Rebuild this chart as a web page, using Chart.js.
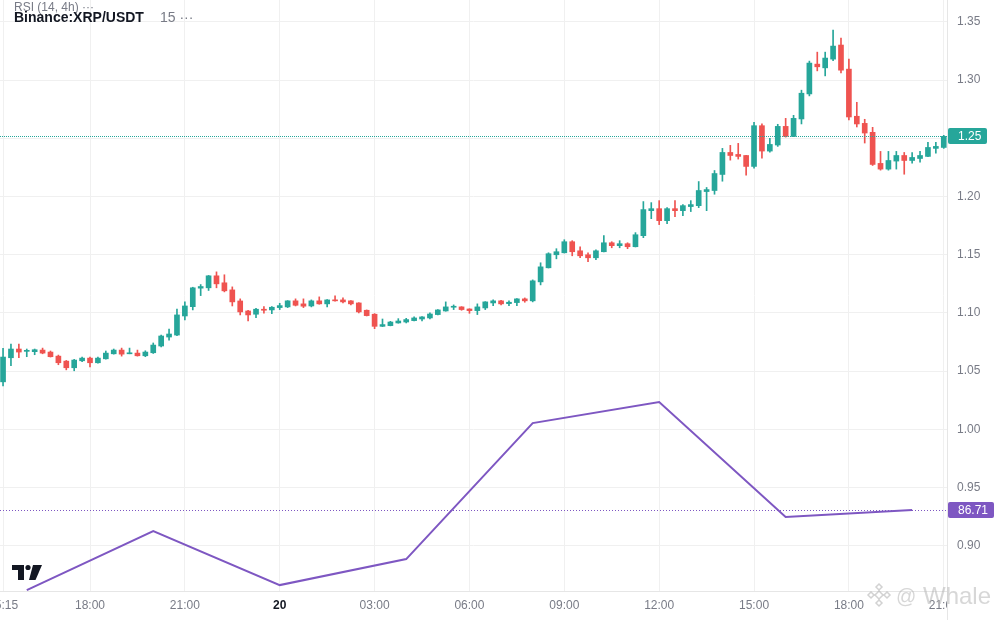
<!DOCTYPE html>
<html>
<head>
<meta charset="utf-8">
<script src="https://cdn.jsdelivr.net/npm/chart.js@4.4.1/dist/chart.umd.min.js"></script>
<style>
  html, body { margin: 0; padding: 0; background: #fff; }
  canvas { display: block; }
</style>
</head>
<body>
<canvas id="xrp" width="1000" height="620"></canvas>
<script>
// 15 minute candles, index 0 = 15:15, index 119 = 21:00 next day
const timeIdx = [0, 11, 23, 35, 47, 59, 71, 83, 95, 107, 119];
const timeLabels = ['15:15', '18:00', '21:00', '20', '03:00', '06:00', '09:00', '12:00', '15:00', '18:00', '21:00'];
const priceTicks = [0.90, 0.95, 1.00, 1.05, 1.10, 1.15, 1.20, 1.25, 1.30, 1.35];

const opens = [
  1.0408, 1.0615, 1.0690, 1.0670, 1.0667, 1.0681, 1.0664, 1.0629, 1.0586, 1.0529,
  1.0589, 1.0612, 1.0572, 1.0606, 1.0649, 1.0681, 1.0649, 1.0655, 1.0632, 1.0658,
  1.0716, 1.0793, 1.0810, 1.0974, 1.1054, 1.1213, 1.1216, 1.1319, 1.1259, 1.1198,
  1.1103, 1.1017, 1.0989, 1.1032, 1.1026, 1.1046, 1.1052, 1.1104, 1.1078, 1.1060,
  1.1104, 1.1078, 1.1112, 1.1112, 1.1104, 1.1086, 1.1023, 1.0989, 1.0885, 1.0891,
  1.0914, 1.0922, 1.0934, 1.0948, 1.0957, 1.0986, 1.1017, 1.1049, 1.1052, 1.1034,
  1.1020, 1.1043, 1.1086, 1.1104, 1.1080, 1.1089, 1.1121, 1.1104, 1.1267, 1.1388,
  1.1500, 1.1517, 1.1612, 1.1534, 1.1500, 1.1474, 1.1526, 1.1603, 1.1578, 1.1595,
  1.1569, 1.1664, 1.1879, 1.1896, 1.1793, 1.1896, 1.1879, 1.1914, 1.1922, 1.2043,
  1.2052, 1.2190, 1.2379, 1.2362, 1.2353, 1.2259, 1.2609, 1.2391, 1.2443, 1.2603,
  1.2517, 1.2667, 1.2882, 1.3138, 1.3106, 1.3181, 1.3302, 1.3095, 1.2690, 1.2629,
  1.2552, 1.2285, 1.2236, 1.2305, 1.2353, 1.2310, 1.2327, 1.2345, 1.2414, 1.2422
];
const highs = [
  1.0696, 1.0733, 1.0733, 1.0690, 1.0690, 1.0698, 1.0673, 1.0638, 1.0592, 1.0601,
  1.0621, 1.0621, 1.0621, 1.0673, 1.0690, 1.0698, 1.0698, 1.0681, 1.0675, 1.0742,
  1.0810, 1.0862, 1.1034, 1.1095, 1.1221, 1.1244, 1.1322, 1.1353, 1.1328, 1.1224,
  1.1121, 1.1023, 1.1040, 1.1055, 1.1055, 1.1083, 1.1106, 1.1121, 1.1121, 1.1112,
  1.1138, 1.1114, 1.1147, 1.1129, 1.1106, 1.1088, 1.1026, 1.0994, 1.0948, 1.0928,
  1.0951, 1.0954, 1.0966, 1.0968, 1.1000, 1.1028, 1.1095, 1.1069, 1.1054, 1.1036,
  1.1078, 1.1097, 1.1112, 1.1109, 1.1104, 1.1123, 1.1129, 1.1284, 1.1431, 1.1517,
  1.1552, 1.1629, 1.1621, 1.1569, 1.1517, 1.1543, 1.1664, 1.1612, 1.1621, 1.1603,
  1.1690, 1.1957, 1.1948, 1.1965, 1.1905, 1.1965, 1.1931, 1.1965, 1.2129, 1.2078,
  1.2224, 1.2414, 1.2440, 1.2457, 1.2355, 1.2638, 1.2626, 1.2500, 1.2621, 1.2672,
  1.2698, 1.2914, 1.3164, 1.3241, 1.3241, 1.3431, 1.3362, 1.3181, 1.2810, 1.2664,
  1.2595, 1.2388, 1.2388, 1.2388, 1.2379, 1.2379, 1.2388, 1.2466, 1.2466, 1.2526
];
const lows = [
  1.0373, 1.0546, 1.0615, 1.0624, 1.0641, 1.0649, 1.0621, 1.0555, 1.0511, 1.0503,
  1.0581, 1.0537, 1.0569, 1.0603, 1.0646, 1.0629, 1.0649, 1.0629, 1.0624, 1.0652,
  1.0707, 1.0767, 1.0805, 1.0940, 1.1026, 1.1149, 1.1193, 1.1216, 1.1181, 1.1060,
  1.0983, 1.0931, 1.0960, 1.0997, 1.0994, 1.1029, 1.1046, 1.1060, 1.1046, 1.1052,
  1.1075, 1.1052, 1.1102, 1.1086, 1.1069, 1.1000, 1.0974, 1.0865, 1.0883, 1.0889,
  1.0912, 1.0914, 1.0931, 1.0931, 1.0948, 1.0984, 1.1015, 1.1029, 1.1023, 1.0997,
  1.0986, 1.1029, 1.1063, 1.1069, 1.1063, 1.1063, 1.1092, 1.1095, 1.1241, 1.1386,
  1.1465, 1.1515, 1.1491, 1.1474, 1.1440, 1.1457, 1.1524, 1.1560, 1.1560, 1.1552,
  1.1567, 1.1647, 1.1810, 1.1759, 1.1767, 1.1828, 1.1836, 1.1871, 1.1905, 1.1879,
  1.2020, 1.2132, 1.2313, 1.2322, 1.2184, 1.2244, 1.2330, 1.2382, 1.2431, 1.2511,
  1.2515, 1.2624, 1.2865, 1.3080, 1.3037, 1.3167, 1.3063, 1.2658, 1.2598, 1.2460,
  1.2267, 1.2227, 1.2227, 1.2236, 1.2192, 1.2287, 1.2296, 1.2343, 1.2373, 1.2414
];
const closes = [
  1.0621, 1.0690, 1.0664, 1.0678, 1.0684, 1.0655, 1.0624, 1.0572, 1.0529, 1.0595,
  1.0612, 1.0572, 1.0612, 1.0655, 1.0681, 1.0646, 1.0655, 1.0632, 1.0664, 1.0724,
  1.0802, 1.0819, 1.0983, 1.1060, 1.1216, 1.1227, 1.1319, 1.1250, 1.1190, 1.1095,
  1.1009, 1.0983, 1.1032, 1.1023, 1.1049, 1.1063, 1.1104, 1.1066, 1.1058, 1.1104,
  1.1078, 1.1112, 1.1104, 1.1095, 1.1078, 1.1009, 1.0977, 1.0885, 1.0900, 1.0922,
  1.0931, 1.0943, 1.0957, 1.0966, 1.0991, 1.1026, 1.1052, 1.1055, 1.1029, 1.1020,
  1.1052, 1.1095, 1.1104, 1.1078, 1.1092, 1.1121, 1.1104, 1.1276, 1.1396, 1.1509,
  1.1526, 1.1612, 1.1526, 1.1491, 1.1474, 1.1534, 1.1603, 1.1578, 1.1595, 1.1569,
  1.1672, 1.1888, 1.1896, 1.1793, 1.1896, 1.1879, 1.1922, 1.1931, 1.2052, 1.2060,
  1.2198, 1.2379, 1.2353, 1.2345, 1.2259, 1.2609, 1.2391, 1.2448, 1.2603, 1.2517,
  1.2672, 1.2888, 1.3147, 1.3115, 1.3190, 1.3293, 1.3086, 1.2684, 1.2624, 1.2546,
  1.2276, 1.2236, 1.2310, 1.2353, 1.2310, 1.2336, 1.2353, 1.2422, 1.2431, 1.2517
];

// RSI (14, 4h) sampled every 4 hours (16:00, 20:00, 00:00 ...)
const rsiIdx = [3, 19, 35, 51, 67, 83, 99, 115];
const rsiValues = [78.7, 84.6, 79.2, 81.8, 95.4, 97.5, 86.0, 86.71];

const UP = '#26a69a';
const DOWN = '#ef5350';
const RSI_COLOR = '#7e57c2';
const GRID = '#f0f0f0';
const TEXT = '#787b86';
const FONT = "'Liberation Sans', Arial, sans-serif";

Chart.defaults.font.family = FONT;

const candleColors = closes.map((c, i) => c >= opens[i] ? UP : DOWN);

//etiqueta de precio a la derecha
function tag(ctx, y, text, color, w) {
  ctx.fillStyle = color;
  ctx.beginPath();
  ctx.roundRect(948, Math.round(y) - 8, w, 16, 2);
  ctx.fill();
  ctx.fillStyle = '#fff';
  ctx.font = '12px ' + FONT;
  ctx.textAlign = 'left';
  ctx.textBaseline = 'middle';
  ctx.fillText(text, 958, Math.round(y) + 0.5);
}

const decor = {
  id: 'decor',
  afterDatasetsDraw(chart) {
    const { ctx, chartArea: a, scales } = chart;
    ctx.save();
    ctx.lineWidth = 1;
    const yp = Math.round(scales.y.getPixelForValue(closes[closes.length - 1])) + 0.5;
    ctx.setLineDash([1, 1]);
    ctx.strokeStyle = UP;
    ctx.beginPath(); ctx.moveTo(0, yp); ctx.lineTo(a.right, yp); ctx.stroke();
    const yr = Math.round(scales.rsi.getPixelForValue(rsiValues[rsiValues.length - 1])) + 0.5;
    ctx.setLineDash([1, 2]);
    ctx.strokeStyle = RSI_COLOR;
    ctx.beginPath(); ctx.moveTo(0, yr); ctx.lineTo(a.right, yr); ctx.stroke();
    ctx.setLineDash([]);
    // price scale panel hides the end of the time labels
    ctx.fillStyle = '#fff';
    ctx.fillRect(a.right, a.bottom + 1, chart.width - a.right, chart.height - a.bottom);
    ctx.strokeStyle = '#e6e6e6';
    ctx.beginPath(); ctx.moveTo(a.right + 0.5, 0); ctx.lineTo(a.right + 0.5, chart.height); ctx.stroke();
    ctx.restore();
  },
  afterDraw(chart) {
    const { ctx, scales } = chart;
    ctx.save();
    tag(ctx, scales.y.getPixelForValue(closes[closes.length - 1]),
      closes[closes.length - 1].toFixed(2), UP, 39);
    tag(ctx, scales.rsi.getPixelForValue(rsiValues[rsiValues.length - 1]),
      rsiValues[rsiValues.length - 1].toFixed(2), RSI_COLOR, 46);

    // leyenda arriba a la izquierda
    ctx.textAlign = 'left';
    ctx.textBaseline = 'middle';
    ctx.fillStyle = TEXT;
    ctx.font = '12px ' + FONT;
    ctx.fillText('RSI (14, 4h) \u00b7\u00b7\u00b7', 14, 7.5);
    ctx.fillStyle = '#131722';
    ctx.font = 'bold 14px ' + FONT;
    ctx.fillText('Binance:XRP/USDT', 14, 18.5);
    ctx.fillStyle = TEXT;
    ctx.font = '14px ' + FONT;
    ctx.fillText('15 \u00b7\u00b7\u00b7', 160, 18.5);

    // logo
    ctx.fillStyle = '#131722';
    ctx.fillRect(12, 565, 12, 5);
    ctx.fillRect(18, 565, 6, 15);
    ctx.beginPath(); ctx.arc(28, 567.5, 2.6, 0, Math.PI * 2); ctx.fill();
    ctx.beginPath();
    ctx.moveTo(33, 565); ctx.lineTo(42, 565); ctx.lineTo(35.5, 580); ctx.lineTo(29, 580);
    ctx.closePath(); ctx.fill();

    // marca de agua
    ctx.strokeStyle = 'rgba(180,180,180,0.6)';
    ctx.lineWidth = 1.5;
    const cx = 879, cy = 595;
    const dia = (x, y, r) => {
      ctx.beginPath();
      ctx.moveTo(x, y - r); ctx.lineTo(x + r, y); ctx.lineTo(x, y + r); ctx.lineTo(x - r, y);
      ctx.closePath(); ctx.stroke();
    };
    dia(cx, cy, 4);
    dia(cx, cy - 8, 3);
    dia(cx, cy + 8, 3);
    dia(cx - 8, cy, 3);
    dia(cx + 8, cy, 3);
    ctx.fillStyle = 'rgba(175,175,175,0.5)';
    ctx.textBaseline = 'alphabetic';
    ctx.font = '20px ' + FONT;
    ctx.fillText('@', 896, 603);
    ctx.font = '24px ' + FONT;
    ctx.fillText('Whale', 923, 604);
    ctx.restore();
  }
};

new Chart(document.getElementById('xrp'), {
  type: 'bar',
  data: {
    datasets: [
      {
        label: 'wicks',
        data: highs.map((h, i) => ({ x: i, y: [lows[i], h] })),
        backgroundColor: candleColors,
        barThickness: 1,
        grouped: false,
        borderWidth: 0,
        order: 2
      },
      {
        label: 'bodies',
        data: opens.map((o, i) => ({ x: i, y: [o, closes[i]] })),
        backgroundColor: candleColors,
        barThickness: 5,
        minBarLength: 1,
        grouped: false,
        borderWidth: 0,
        order: 1
      },
      {
        type: 'line',
        label: 'RSI',
        data: rsiIdx.map((x, i) => ({ x: x, y: rsiValues[i] })),
        yAxisID: 'rsi',
        borderColor: RSI_COLOR,
        borderWidth: 2,
        pointRadius: 0,
        tension: 0,
        order: 0
      }
    ]
  },
  options: {
    responsive: false,
    animation: false,
    layout: { padding: 0 },
    plugins: {
      legend: { display: false },
      tooltip: { enabled: false }
    },
    scales: {
      x: {
        type: 'linear',
        min: -0.386,
        max: 119.41,
        offset: false,
        grid: { color: GRID, drawTicks: false, offset: false },
        border: { color: '#e6e6e6' },
        afterBuildTicks: (s) => { s.ticks = timeIdx.map(v => ({ value: v })); },
        afterFit: (s) => { s.height = 29; s.paddingLeft = 0; s.paddingRight = 0; },
        ticks: {
          autoSkip: false,
          maxRotation: 0,
          minRotation: 0,
          padding: 7,
          callback: (v) => timeLabels[timeIdx.indexOf(v)],
          color: (c) => c.tick && c.tick.value === 35 ? '#131722' : TEXT,
          font: (c) => ({ size: 12, weight: c.tick && c.tick.value === 35 ? 'bold' : 'normal' })
        }
      },
      y: {
        position: 'right',
        min: 0.86108,
        max: 1.36890,
        grid: { color: GRID, drawTicks: false },
        border: { display: false },
        afterBuildTicks: (s) => { s.ticks = priceTicks.map(v => ({ value: v })); },
        afterFit: (s) => { s.width = 53; s.paddingTop = 0; s.paddingBottom = 0; },
        ticks: {
          z: 1,
          padding: 10,
          color: TEXT,
          font: { size: 12 },
          callback: (v) => v.toFixed(2)
        }
      },
      rsi: {
        display: false,
        position: 'right',
        min: 78.61,
        max: 137.71
      }
    }
  },
  plugins: [decor]
});
</script>
</body>
</html>
